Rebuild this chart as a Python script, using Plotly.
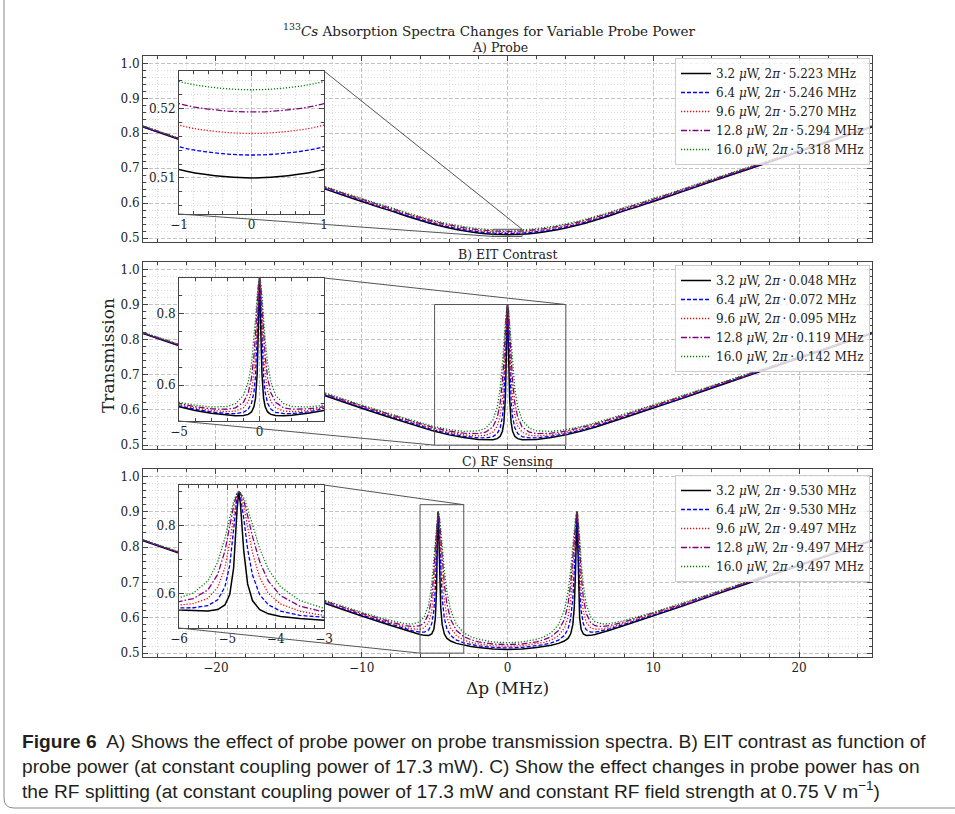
import plotly.graph_objects as go

# ---------------- data ----------------
powers = ["3.2", "6.4", "9.6", "12.8", "16.0"]
freq_A = ["5.223", "5.246", "5.270", "5.294", "5.318"]
freq_B = ["0.048", "0.072", "0.095", "0.119", "0.142"]
freq_C = ["9.530", "9.530", "9.497", "9.497", "9.497"]

x_A = [-25, -22, -20, -18, -16, -14, -12, -10, -9, -8, -7, -6, -5, -4, -3, -2, -1, -0.5, 0,
       0.5, 1, 2, 3, 4, 5, 6, 7, 8, 9, 10, 12, 14, 16, 18, 20, 22, 25]
black_A = [0.8180, 0.7750, 0.7470, 0.7180, 0.6900, 0.6620, 0.6330, 0.6050, 0.5910, 0.5780, 0.5640, 0.5510, 0.5390, 0.5290, 0.5210, 0.5150, 0.5112, 0.5103, 0.5100,
           0.5103, 0.5112, 0.5150, 0.5210, 0.5290, 0.5390, 0.5510, 0.5640, 0.5780, 0.5910, 0.6050, 0.6330, 0.6620, 0.6900, 0.7180, 0.7470, 0.7750, 0.8180]
blue_A = [0.8188, 0.7760, 0.7481, 0.7193, 0.6915, 0.6637, 0.6350, 0.6072, 0.5933, 0.5805, 0.5667, 0.5538, 0.5419, 0.5321, 0.5242, 0.5183, 0.5145, 0.5136, 0.5133,
          0.5136, 0.5145, 0.5183, 0.5242, 0.5321, 0.5419, 0.5538, 0.5667, 0.5805, 0.5933, 0.6072, 0.6350, 0.6637, 0.6915, 0.7193, 0.7481, 0.7760, 0.8188]
red_A = [0.8195, 0.7769, 0.7492, 0.7205, 0.6929, 0.6653, 0.6368, 0.6093, 0.5955, 0.5828, 0.5691, 0.5564, 0.5447, 0.5349, 0.5271, 0.5213, 0.5176, 0.5167, 0.5164,
         0.5167, 0.5176, 0.5213, 0.5271, 0.5349, 0.5447, 0.5564, 0.5691, 0.5828, 0.5955, 0.6093, 0.6368, 0.6653, 0.6929, 0.7205, 0.7492, 0.7769, 0.8195]
purple_A = [0.8202, 0.7778, 0.7503, 0.7217, 0.6943, 0.6669, 0.6386, 0.6114, 0.5977, 0.5852, 0.5716, 0.5591, 0.5475, 0.5378, 0.5301, 0.5244, 0.5207, 0.5198, 0.5195,
            0.5198, 0.5207, 0.5244, 0.5301, 0.5378, 0.5475, 0.5591, 0.5716, 0.5852, 0.5977, 0.6114, 0.6386, 0.6669, 0.6943, 0.7217, 0.7503, 0.7778, 0.8202]
green_A = [0.8210, 0.7788, 0.7514, 0.7230, 0.6958, 0.6686, 0.6405, 0.6135, 0.6000, 0.5876, 0.5742, 0.5618, 0.5503, 0.5408, 0.5332, 0.5275, 0.5239, 0.5230, 0.5227,
           0.5230, 0.5239, 0.5275, 0.5332, 0.5408, 0.5503, 0.5618, 0.5742, 0.5876, 0.6000, 0.6135, 0.6405, 0.6686, 0.6958, 0.7230, 0.7514, 0.7788, 0.8210]

x_B = [-25, -22, -20, -18, -16, -14, -12, -10, -8, -6, -5, -4, -3, -2, -1.5, -1, -0.7, -0.5, -0.35, -0.25, -0.15, -0.08, 0,
       0.08, 0.15, 0.25, 0.35, 0.5, 0.7, 1, 1.5, 2, 3, 4, 5, 6, 8, 10, 12, 14, 16, 18, 20, 22, 25]
black_B = [0.8180, 0.7750, 0.7470, 0.7180, 0.6900, 0.6620, 0.6330, 0.6050, 0.5781, 0.5511, 0.5392, 0.5292, 0.5214, 0.5160, 0.5145, 0.5151, 0.5184, 0.5253, 0.5396, 0.5639, 0.6300, 0.7479, 0.9000,
           0.7479, 0.6300, 0.5639, 0.5396, 0.5253, 0.5184, 0.5151, 0.5145, 0.5160, 0.5214, 0.5292, 0.5392, 0.5511, 0.5781, 0.6050, 0.6330, 0.6620, 0.6900, 0.7180, 0.7470, 0.7750, 0.8180]
blue_B = [0.8188, 0.7760, 0.7481, 0.7193, 0.6915, 0.6637, 0.6351, 0.6073, 0.5807, 0.5541, 0.5423, 0.5327, 0.5253, 0.5208, 0.5205, 0.5242, 0.5331, 0.5495, 0.5803, 0.6258, 0.7191, 0.8228, 0.9000,
          0.8228, 0.7191, 0.6258, 0.5803, 0.5495, 0.5331, 0.5242, 0.5205, 0.5208, 0.5253, 0.5327, 0.5423, 0.5541, 0.5807, 0.6073, 0.6351, 0.6637, 0.6915, 0.7193, 0.7481, 0.7760, 0.8188]
red_B = [0.8195, 0.7769, 0.7492, 0.7205, 0.6930, 0.6654, 0.6369, 0.6095, 0.5831, 0.5570, 0.5455, 0.5362, 0.5293, 0.5263, 0.5280, 0.5369, 0.5544, 0.5837, 0.6323, 0.6923, 0.7855, 0.8587, 0.9000,
         0.8587, 0.7855, 0.6923, 0.6323, 0.5837, 0.5544, 0.5369, 0.5280, 0.5263, 0.5293, 0.5362, 0.5455, 0.5570, 0.5831, 0.6095, 0.6369, 0.6654, 0.6930, 0.7205, 0.7492, 0.7769, 0.8195]
purple_B = [0.8202, 0.7779, 0.7504, 0.7218, 0.6944, 0.6671, 0.6388, 0.6117, 0.5857, 0.5601, 0.5489, 0.5399, 0.5339, 0.5328, 0.5368, 0.5521, 0.5791, 0.6205, 0.6809, 0.7442, 0.8239, 0.8748, 0.9000,
            0.8748, 0.8239, 0.7442, 0.6809, 0.6205, 0.5791, 0.5521, 0.5368, 0.5328, 0.5339, 0.5399, 0.5489, 0.5601, 0.5857, 0.6117, 0.6388, 0.6671, 0.6944, 0.7218, 0.7504, 0.7779, 0.8202]
green_B = [0.8211, 0.7789, 0.7515, 0.7232, 0.6960, 0.6689, 0.6409, 0.6140, 0.5885, 0.5633, 0.5525, 0.5442, 0.5392, 0.5407, 0.5482, 0.5715, 0.6092, 0.6612, 0.7270, 0.7861, 0.8491, 0.8841, 0.9000,
           0.8841, 0.8491, 0.7861, 0.7270, 0.6612, 0.6092, 0.5715, 0.5482, 0.5407, 0.5392, 0.5442, 0.5525, 0.5633, 0.5885, 0.6140, 0.6409, 0.6689, 0.6960, 0.7232, 0.7515, 0.7789, 0.8211]

x_C = [-25, -22, -20, -18, -16, -14, -12, -10, -8, -7, -6.5, -6, -5.7, -5.4, -5.2, -5.05, -4.95, -4.87, -4.8, -4.765,
       -4.73, -4.66, -4.58, -4.48, -4.33, -4.15, -3.9, -3.5, -3, -2.5, -2, -1, 0,
       1, 2, 2.5, 3, 3.5, 3.9, 4.15, 4.33, 4.48, 4.58, 4.66, 4.73,
       4.765, 4.8, 4.87, 4.95, 5.05, 5.2, 5.4, 5.7, 6, 6.5, 7, 8, 10, 12, 14, 16, 18, 20, 22, 25]
black_C = [0.8180, 0.7750, 0.7470, 0.7180, 0.6900, 0.6620, 0.6330, 0.6051, 0.5783, 0.5645, 0.5584, 0.5527, 0.5502, 0.5499, 0.5541, 0.5677, 0.5985, 0.6762, 0.8448, 0.9000,
           0.8662, 0.7256, 0.6295, 0.5806, 0.5539, 0.5416, 0.5341, 0.5276, 0.5225, 0.5187, 0.5157, 0.5116, 0.5104,
           0.5116, 0.5157, 0.5187, 0.5225, 0.5276, 0.5341, 0.5416, 0.5539, 0.5806, 0.6295, 0.7256, 0.8662,
           0.9000, 0.8448, 0.6762, 0.5985, 0.5677, 0.5541, 0.5499, 0.5502, 0.5527, 0.5584, 0.5645, 0.5783, 0.6051, 0.6330, 0.6620, 0.6900, 0.7180, 0.7470, 0.7750, 0.8180]
blue_C = [0.8188, 0.7760, 0.7481, 0.7193, 0.6916, 0.6638, 0.6352, 0.6076, 0.5814, 0.5684, 0.5630, 0.5592, 0.5595, 0.5659, 0.5827, 0.6208, 0.6842, 0.7823, 0.8816, 0.9000,
          0.8888, 0.8210, 0.7318, 0.6555, 0.5979, 0.5679, 0.5498, 0.5369, 0.5290, 0.5241, 0.5205, 0.5160, 0.5146,
          0.5160, 0.5205, 0.5241, 0.5290, 0.5369, 0.5498, 0.5679, 0.5979, 0.6555, 0.7318, 0.8210, 0.8888,
          0.9000, 0.8816, 0.7823, 0.6842, 0.6208, 0.5827, 0.5659, 0.5595, 0.5592, 0.5630, 0.5684, 0.5814, 0.6076, 0.6352, 0.6638, 0.6916, 0.7193, 0.7481, 0.7760, 0.8188]
red_C = [0.8195, 0.7769, 0.7492, 0.7206, 0.6930, 0.6655, 0.6371, 0.6101, 0.5846, 0.5727, 0.5686, 0.5675, 0.5716, 0.5873, 0.6190, 0.6772, 0.7518, 0.8333, 0.8912, 0.9000,
         0.8944, 0.8574, 0.7946, 0.7213, 0.6479, 0.6014, 0.5708, 0.5492, 0.5370, 0.5303, 0.5259, 0.5206, 0.5190,
         0.5206, 0.5259, 0.5303, 0.5370, 0.5492, 0.5708, 0.6014, 0.6479, 0.7213, 0.7946, 0.8574, 0.8944,
         0.9000, 0.8912, 0.8333, 0.7518, 0.6772, 0.6190, 0.5873, 0.5716, 0.5675, 0.5686, 0.5727, 0.5846, 0.6101, 0.6371, 0.6655, 0.6930, 0.7206, 0.7492, 0.7769, 0.8195]
purple_C = [0.8202, 0.7778, 0.7503, 0.7219, 0.6945, 0.6672, 0.6392, 0.6127, 0.5882, 0.5777, 0.5751, 0.5775, 0.5864, 0.6122, 0.6569, 0.7260, 0.7970, 0.8585, 0.8949, 0.9000,
            0.8965, 0.8737, 0.8301, 0.7693, 0.6944, 0.6373, 0.5952, 0.5641, 0.5468, 0.5378, 0.5321, 0.5258, 0.5240,
            0.5258, 0.5321, 0.5378, 0.5468, 0.5641, 0.5952, 0.6373, 0.6944, 0.7693, 0.8301, 0.8737, 0.8965,
            0.9000, 0.8949, 0.8585, 0.7970, 0.7260, 0.6569, 0.6122, 0.5864, 0.5775, 0.5751, 0.5777, 0.5882, 0.6127, 0.6392, 0.6672, 0.6945, 0.7219, 0.7503, 0.7778, 0.8202]
green_C = [0.8210, 0.7789, 0.7516, 0.7233, 0.6961, 0.6691, 0.6413, 0.6155, 0.5922, 0.5833, 0.5826, 0.5890, 0.6030, 0.6387, 0.6930, 0.7644, 0.8263, 0.8720, 0.8966, 0.9000,
           0.8974, 0.8821, 0.8508, 0.8024, 0.7332, 0.6720, 0.6213, 0.5807, 0.5578, 0.5462, 0.5391, 0.5316, 0.5295,
           0.5316, 0.5391, 0.5462, 0.5578, 0.5807, 0.6213, 0.6720, 0.7332, 0.8024, 0.8508, 0.8821, 0.8974,
           0.9000, 0.8966, 0.8720, 0.8263, 0.7644, 0.6930, 0.6387, 0.6030, 0.5890, 0.5826, 0.5833, 0.5922, 0.6155, 0.6413, 0.6691, 0.6961, 0.7233, 0.7516, 0.7789, 0.8210]

# ---------------- layout helpers ----------------
W, H = 955, 814
def px(v):
    return v / W
def py(v):
    return 1 - v / H

SERIF = "DejaVu Serif"
colors = ["#000000", "#0000ff", "#ff0000", "#800080", "#008000"]
dashes = ["solid", "4px,2px", "1.2px,1.8px", "6px,2px,1.5px,2px", "1.2px,1.8px"]
widths = [1.5, 1.3, 1.3, 1.3, 1.3]

MAIN_X = [px(143), px(872)]
MAIN_Y = {1: [py(242), py(56)], 2: [py(449), py(262)], 3: [py(657), py(469)]}
INSET_X = [px(179), px(324)]
INSET_Y = {4: [py(214), py(71)], 5: [py(421), py(278)], 6: [py(628), py(485)]}
YR_MAIN = [0.489, 1.021]
INSET_RANGE = {
    4: ([-1, 1], [0.5048, 0.5254]),
    5: ([-5, 4], [0.5, 0.9]),
    6: ([-6, -3], [0.5, 0.92]),
}

panels = [
    (1, 4, x_A, [black_A, blue_A, red_A, purple_A, green_A], freq_A, "legend", "spline"),
    (2, 5, x_B, [black_B, blue_B, red_B, purple_B, green_B], freq_B, "legend2", "linear"),
    (3, 6, x_C, [black_C, blue_C, red_C, purple_C, green_C], freq_C, "legend3", "linear"),
]

fig = go.Figure()
for main, ins, xs, ys_list, freqs, leg, shape in panels:
    sx = "" if main == 1 else str(main)
    for i, ys in enumerate(ys_list):
        name = f"{powers[i]} <i>μ</i>W, 2<i>π</i>\u2009·\u2009{freqs[i]} MHz"
        line = dict(color=colors[i], width=widths[i], dash=dashes[i], shape=shape)
        fig.add_trace(go.Scatter(x=xs, y=ys, mode="lines", name=name, line=line,
                                 xaxis=f"x{sx}", yaxis=f"y{sx}", legend=leg, showlegend=True))
    for i, ys in enumerate(ys_list):
        line = dict(color=colors[i], width=widths[i], dash=dashes[i], shape=shape)
        fig.add_trace(go.Scatter(x=xs, y=ys, mode="lines", line=line, showlegend=False,
                                 xaxis=f"x{ins}", yaxis=f"y{ins}", hoverinfo="skip"))

AX_COL = "#444444"
def axis_style(dtick, minor_dtick, show_labels, fmt=None):
    d = dict(
        showline=True, linecolor=AX_COL, linewidth=1, mirror="allticks",
        ticks="inside", ticklen=5, tickwidth=1, tickcolor=AX_COL,
        dtick=dtick, tick0=0, showticklabels=show_labels, automargin=False,
        tickfont=dict(family=SERIF, size=12, color="#222222"),
        showgrid=True, gridcolor="#c2c2c2", griddash="4px,2px", gridwidth=0.6,
        zeroline=False,
        minor=dict(dtick=minor_dtick, tick0=0, ticks="inside", ticklen=3, tickcolor=AX_COL,
                   showgrid=True, gridcolor="#dadada", griddash="1px,2px", gridwidth=0.6),
    )
    if fmt:
        d["tickformat"] = fmt
    return d

layout_axes = {}
for n in (1, 2, 3):
    sx = "" if n == 1 else str(n)
    xa = axis_style(10, 2, n == 3)
    xa.update(domain=MAIN_X, range=[-25, 25], anchor=f"y{sx}")
    ya = axis_style(0.1, 0.02, True, ".1f")
    ya.update(domain=MAIN_Y[n], range=YR_MAIN, anchor=f"x{sx}")
    layout_axes[f"xaxis{sx}"] = xa
    layout_axes[f"yaxis{sx}"] = ya

inset_ticks = {4: (1, 0.2, 0.01, 0.002, ".2f"), 5: (5, 1, 0.2, 0.05, ".1f"), 6: (1, 0.2, 0.2, 0.05, ".1f")}
for n in (4, 5, 6):
    xd, xm, yd, ym, yf = inset_ticks[n]
    xr, yr = INSET_RANGE[n]
    xa = axis_style(xd, xm, True)
    xa.update(domain=INSET_X, range=xr, anchor=f"y{n}")
    ya = axis_style(yd, ym, True, yf)
    ya.update(domain=INSET_Y[n], range=yr, anchor=f"x{n}")
    layout_axes[f"xaxis{n}"] = xa
    layout_axes[f"yaxis{n}"] = ya

fig.update_layout(**layout_axes)

# ---------------- zoom boxes + connectors ----------------
def to_px(v, dom, rng):
    return dom[0] + (v - rng[0]) / (rng[1] - rng[0]) * (dom[1] - dom[0])

shapes = []
BOX_COL = "#555555"
for main, ins in ((1, 4), (2, 5), (3, 6)):
    sx = "" if main == 1 else str(main)
    xr, yr = INSET_RANGE[ins]
    shapes.append(dict(type="rect", xref=f"x{sx}", yref=f"y{sx}", x0=xr[0], x1=xr[1], y0=yr[0], y1=yr[1],
                       line=dict(color=BOX_COL, width=1), layer="above"))
    bx0 = to_px(xr[0], MAIN_X, [-25, 25]); bx1 = to_px(xr[1], MAIN_X, [-25, 25])
    by0 = to_px(yr[0], MAIN_Y[main], YR_MAIN); by1 = to_px(yr[1], MAIN_Y[main], YR_MAIN)
    ix0, ix1 = INSET_X
    iy0, iy1 = INSET_Y[ins]
    shapes.append(dict(type="line", xref="paper", yref="paper", x0=ix1, y0=iy1, x1=bx1, y1=by1,
                       line=dict(color=BOX_COL, width=1), layer="above"))
    shapes.append(dict(type="line", xref="paper", yref="paper", x0=ix0, y0=iy0, x1=bx0, y1=by0,
                       line=dict(color=BOX_COL, width=1), layer="above"))

# outer figure frame (rounded bottom-left)
shapes.append(dict(type="path", xref="paper", yref="paper",
                   path=f"M {px(4)},{py(-5)} L {px(4)},{py(798)} Q {px(4)},{py(808)} {px(14)},{py(808)} L {px(970)},{py(808)}",
                   line=dict(color="#8a8a8a", width=1)))
fig.update_layout(shapes=shapes)

# ---------------- legends ----------------
def legend_style(top):
    return dict(x=px(870), xanchor="right", y=py(top), yanchor="top",
                bgcolor="rgba(255,255,255,0.8)", bordercolor="#cccccc", borderwidth=1,
                font=dict(family=SERIF, size=12, color="#222222"),
                itemwidth=30, tracegroupgap=0)
fig.update_layout(legend=legend_style(58), legend2=legend_style(265), legend3=legend_style(475))

# ---------------- text ----------------
ann = []
def text(x, y, s, size, family=SERIF, xanchor="center", angle=0, color="#222222"):
    ann.append(dict(x=px(x), y=py(y), xref="paper", yref="paper", text=s, showarrow=False,
                    xanchor=xanchor, yanchor="middle", textangle=angle,
                    font=dict(family=family, size=size, color=color)))

text(489, 30, "<sup>133</sup><i>Cs</i> Absorption Spectra Changes for Variable Probe Power", 13.5)
text(500, 47, "A) Probe", 12.5)
text(507, 254, "B) EIT Contrast", 12.5)
text(507, 461, "C) RF Sensing", 12.5)
text(108, 356, "Transmission", 17, angle=-90)
text(507, 688, "Δp (MHz)", 17)

CAP = "Liberation Sans"
CAPS = 19.2
text(20, 741, "<b>Figure 6</b>  A) Shows the effect of probe power on probe transmission spectra. B) EIT contrast as function of",
     CAPS, family=CAP, xanchor="left", color="#231f20")
text(20, 766, "probe power (at constant coupling power of 17.3 mW). C) Show the effect changes in probe power has on",
     CAPS, family=CAP, xanchor="left", color="#231f20")
text(20, 790, "the RF splitting (at constant coupling power of 17.3 mW and constant RF field strength at 0.75 V m<sup>−1</sup>)",
     CAPS, family=CAP, xanchor="left", color="#231f20")
fig.update_layout(annotations=ann)

fig.update_layout(width=W, height=H,
                  margin=dict(l=0, r=0, t=0, b=0, pad=0, autoexpand=False),
                  paper_bgcolor="white", plot_bgcolor="white", showlegend=True)

fig.write_html("out.html")
